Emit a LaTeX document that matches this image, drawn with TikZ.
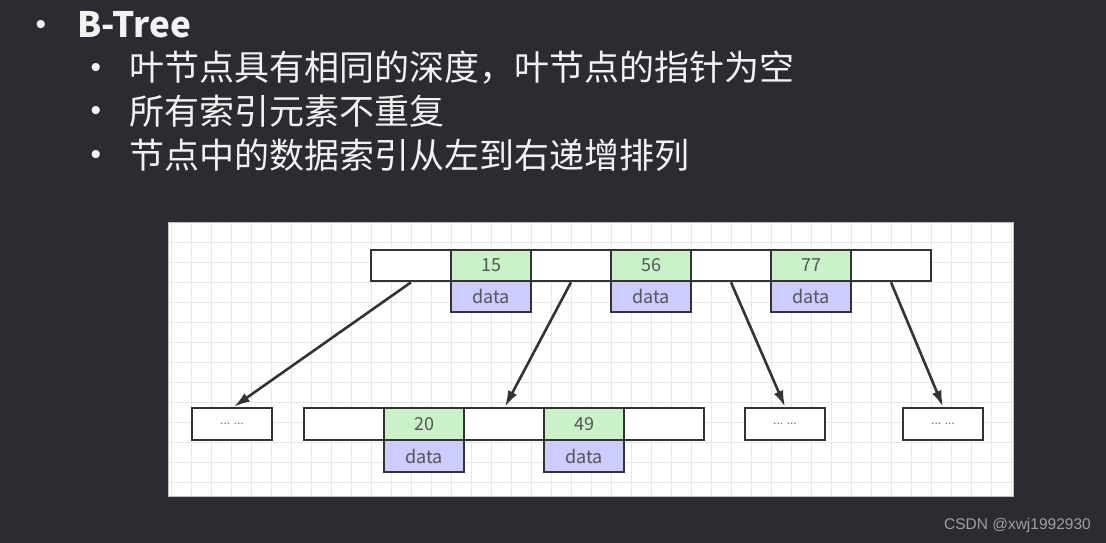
\documentclass[tikz,border=0pt]{standalone}
\usepackage{fontspec}
\setmainfont{Noto Sans CJK SC}
\newfontfamily\cjk{Noto Sans CJK SC}
\newfontfamily\wmfont{Liberation Sans}
\usetikzlibrary{arrows.meta}
\definecolor{bgc}{HTML}{2B2C31}
\definecolor{gridc}{HTML}{E8E8E8}
\definecolor{boxc}{HTML}{333333}
\definecolor{keyc}{HTML}{C9F2C9}
\definecolor{datac}{HTML}{CCCCFF}
\definecolor{txtc}{HTML}{555555}
\definecolor{slidetxt}{HTML}{F2F2F2}
\begin{document}
\begin{tikzpicture}[x=1pt,y=-1pt,
  cellbox/.style={draw=boxc, line width=2.6pt, fill=white, minimum width=80pt, minimum height=31pt, inner sep=0pt, font=\cjk\fontsize{18}{18}\selectfont, text=txtc},
  keybox/.style={cellbox, fill=keyc},
  databox/.style={cellbox, fill=datac},
  leafbox/.style={cellbox, minimum height=32pt, font=\cjk\fontsize{12}{12}\selectfont, text=txtc!80},
  ptr/.style={draw=boxc, line width=2.6pt, -{Latex[length=16pt,width=10pt]}},
  bul/.style={text=slidetxt, anchor=west, inner sep=0pt, font=\cjk\fontsize{35}{35}\selectfont},
  dot/.style={text=slidetxt, inner sep=0pt, font=\wmfont\fontsize{30}{30}\selectfont}
]
\fill[bgc] (0,0) rectangle (1106,543);
\useasboundingbox (0,0) rectangle (1106,543);

% slide text
\node[dot] (d0) at (41,27) {•};
\node[bul, font=\cjk\bfseries\fontsize{35}{35}\selectfont] (t0) at (77,25) {B-Tree};
\node[dot] (d1) at (96,70) {•};
\node[bul] (t1) at (129,68) {叶节点具有相同的深度，叶节点的指针为空};
\node[dot] (d2) at (96,113) {•};
\node[bul] (t2) at (129,111) {所有索引元素不重复};
\node[dot] (d3) at (96,157) {•};
\node[bul] (t3) at (129,155) {节点中的数据索引从左到右递增排列};

% panel
\fill[white] (168,222) rectangle (1013,496);
\foreach \gx in {171,191,...,1011} \draw[gridc, line width=1pt] (\gx,222) -- (\gx,496);
\foreach \gy in {242,262,...,494} \draw[gridc, line width=1pt] (168,\gy) -- (1013,\gy);
\draw[gray!50, line width=1pt] (168,222) rectangle (1013,496);

% root node
\node[cellbox] (r0) at (411,265.5) {};
\node[keybox]  (k15) at (491,265.5) {15};
\node[cellbox] (r1) at (571,265.5) {};
\node[keybox]  (k56) at (651,265.5) {56};
\node[cellbox] (r2) at (731,265.5) {};
\node[keybox]  (k77) at (811,265.5) {77};
\node[cellbox] (r3) at (891,265.5) {};
\node[databox] (d15) at (491,296.5) {data};
\node[databox] (d56) at (651,296.5) {data};
\node[databox] (d77) at (811,296.5) {data};

% child row
\node[leafbox] (l1) at (232,424) {... ...};
\node[cellbox, minimum height=32pt] (c0) at (344,424) {};
\node[keybox, minimum height=32pt]  (k20) at (424,424) {20};
\node[cellbox, minimum height=32pt] (c1) at (504,424) {};
\node[keybox, minimum height=32pt]  (k49) at (584,424) {49};
\node[cellbox, minimum height=32pt] (c2) at (664,424) {};
\node[databox, minimum height=32pt] (d20) at (424,456) {data};
\node[databox, minimum height=32pt] (d49) at (584,456) {data};
\node[leafbox] (l3) at (785,424) {... ...};
\node[leafbox] (l4) at (943,424) {... ...};

% pointers
\draw[ptr] (r0.south) -- ([xshift=2pt]l1.north);
\draw[ptr] (r1.south) -- ([xshift=1pt]c1.north);
\draw[ptr] (r2.south) -- (l3.north);
\draw[ptr] (r3.south) -- (l4.north);

% watermark
\node[text=gray!75, font=\wmfont\fontsize{15.5}{15.5}\selectfont, anchor=east, inner sep=0pt] (wm) at (1091,525) {CSDN @xwj1992930};
\end{tikzpicture}
\end{document}
